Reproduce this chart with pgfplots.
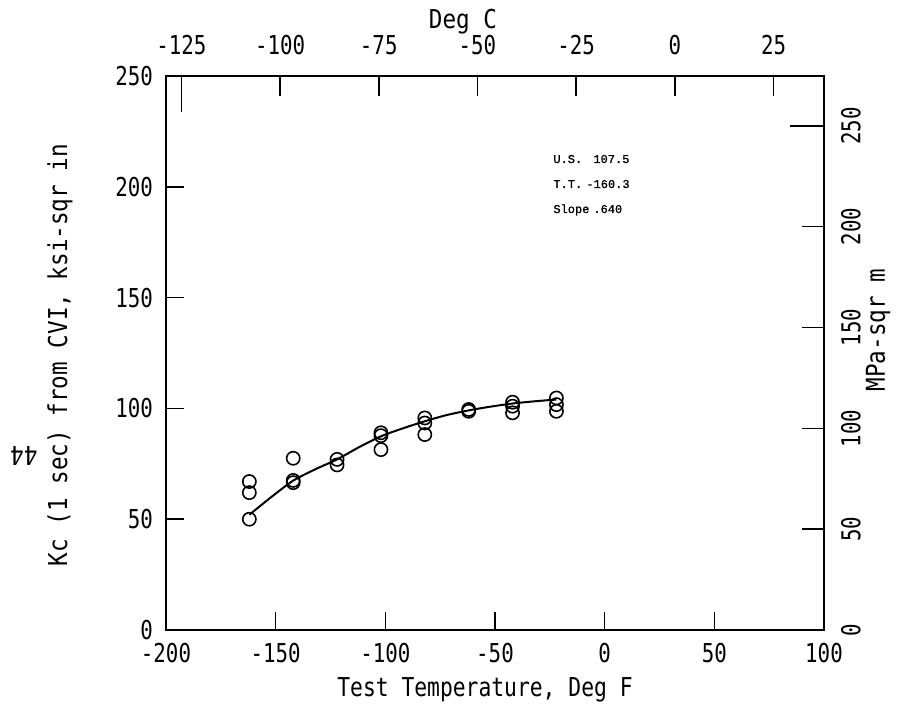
\documentclass[border=0pt]{standalone}
\usepackage{fontspec}
\setmainfont{DejaVu Sans Mono}[FakeStretch=0.8]
\newfontfamily\labfont{DejaVu Sans Mono}[FakeStretch=0.87]
\newfontfamily\xlabfont{DejaVu Sans Mono}[FakeStretch=0.82]
\newfontfamily\tfont{Liberation Mono}[FakeBold=1.2]
\usepackage{pgfplots}
\pgfplotsset{compat=1.18}
\begin{document}
\begin{tikzpicture}
\path[use as bounding box] (-83pt,-36.5pt) rectangle (367pt,315pt);
\pgfplotsset{every axis/.append style={scale only axis, width=329pt, height=277pt,
  at={(0,0)}, anchor=south west, tick align=inside,
  /pgf/number format/assume math mode=true,
  tick label style={font=\fontsize{13}{15}\selectfont},
  axis line style={line width=0.8pt}, every tick/.style={line width=0.8pt, black}}}
\begin{axis}[xmin=-200, xmax=100, ymin=0, ymax=250,
  xtick={-200,-150,...,100}, ytick={0,50,...,250},
  xtick pos=left, ytick pos=left, major tick length=9pt,
  xticklabel style={yshift=-3pt},
  yticklabel style={xshift=-3pt}]
\addplot[only marks, mark=o, mark size=3.3pt, mark options={line width=0.8pt}] table {
x y
-162 67
-162 62
-162 50
-142 77.5
-142 67.5
-142 66.5
-122 77
-122 74.5
-102 89
-102 87.7
-102 81.4
-82 95.7
-82 93.4
-82 88.2
-62 99.5
-62 98.7
-42 102.8
-42 101
-42 98
-22 104.7
-22 101.7
-22 98.7
};
\addplot[smooth, line width=1pt] coordinates {
(-162,52) (-152,60) (-142,67.4) (-132,72.5) (-122,77) (-112,82.5) (-102,87.4)
(-92,91) (-82,94.2) (-72,97) (-62,99.1) (-52,100.8) (-42,102.2) (-32,103.2) (-22,104)
};
\end{axis}
\begin{axis}[xmin=-128.8889, xmax=37.7778, ymin=0, ymax=1,
  axis x line*=top, axis y line=none,
  xtick={-100,-75,...,25}, extra x ticks={-125},
  extra x tick style={major tick length=18pt},
  major tick length=10pt,
  xticklabel style={yshift=7pt}]
\end{axis}
\begin{axis}[xmin=0, xmax=1, ymin=0, ymax=274.7,
  axis y line*=right, axis x line=none,
  ytick={0,50,...,200}, extra y ticks={250},
  extra y tick style={major tick length=17pt},
  major tick length=11pt,
  yticklabel style={xshift=5pt, rotate=90, anchor=north}]
\end{axis}
\node[font=\labfont\fontsize{13}{15}\selectfont] at (148.5pt,304pt) {Deg C};
\node[font=\xlabfont\fontsize{13}{15}\selectfont] at (159.5pt,-30pt) {Test Temperature, Deg F};
\node[font=\labfont\fontsize{13}{15}\selectfont, rotate=90] at (-53pt,137.5pt) {Kc (1 sec) from CVI, ksi-sqr in};
\node[font=\labfont\fontsize{13}{15}\selectfont, rotate=180] at (-71pt,87pt) {44};
\node[font=\labfont\fontsize{13}{15}\selectfont, rotate=90] at (356pt,150pt) {MPa-sqr m};
\begin{scope}[every node/.style={font=\tfont\fontsize{6}{8}\selectfont, anchor=base west, inner sep=0pt}]
\node at (193.5pt,233.5pt) {U.S.};
\node at (213.5pt,233.5pt) {107.5};
\node at (193.5pt,221pt) {T.T.};
\node at (210pt,221pt) {-160.3};
\node at (193.5pt,208.5pt) {Slope};
\node at (213.5pt,208.5pt) {.640};
\end{scope}
\end{tikzpicture}
\end{document}
